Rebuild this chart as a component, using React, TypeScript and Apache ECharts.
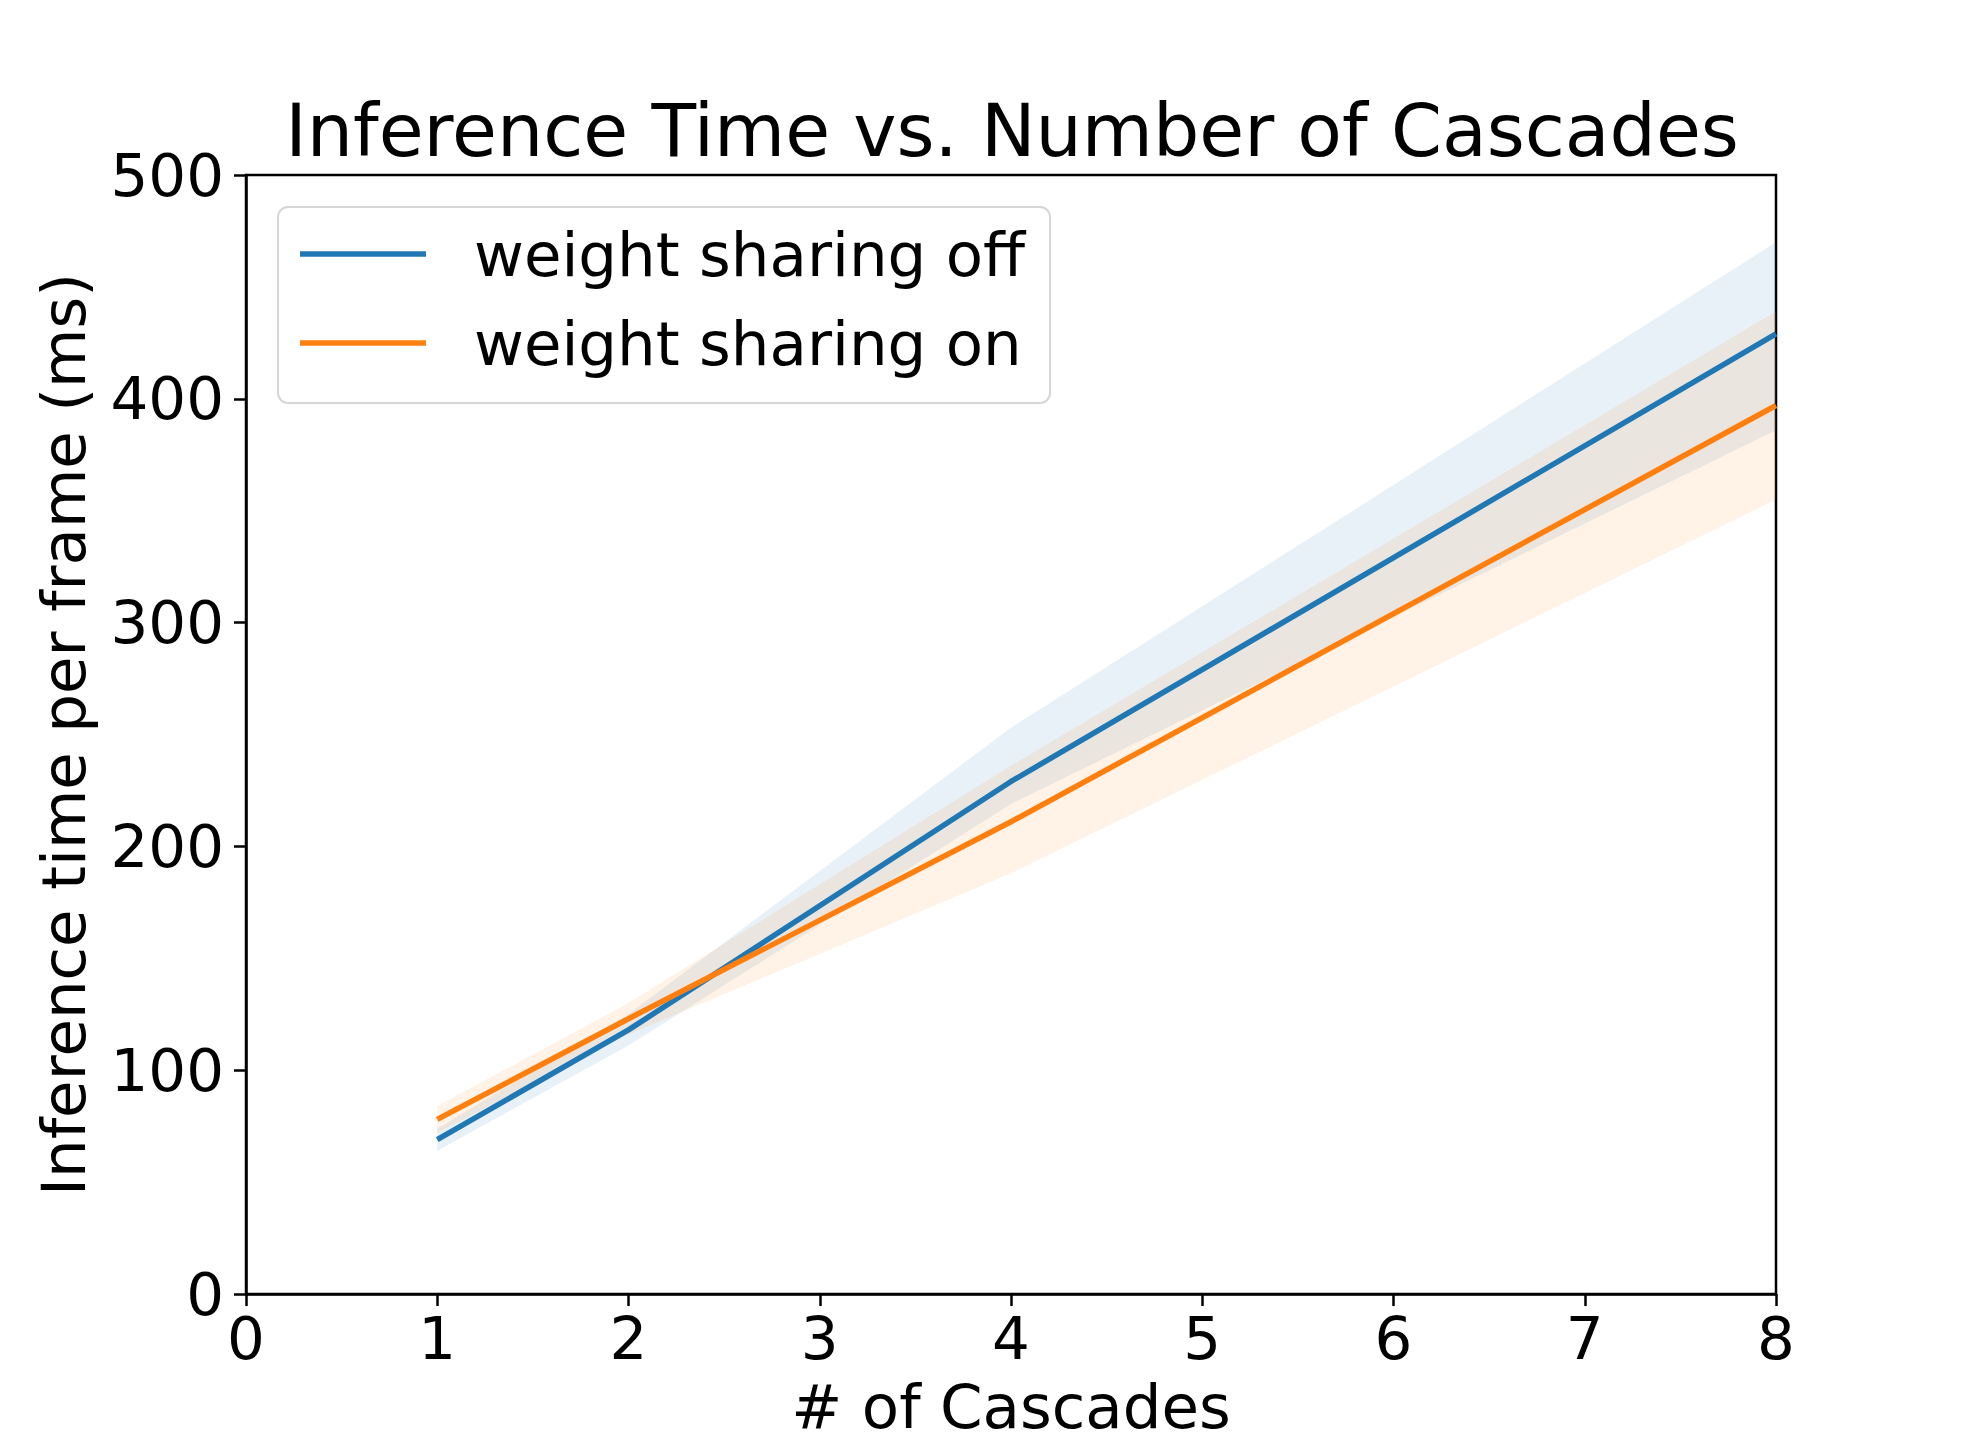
import React, { useEffect, useRef } from "react";
import * as echarts from "echarts";

const cascades = [1, 2, 4, 8];
const offMean = [69, 118, 229, 429];
const offLow = [64, 111, 219, 386];
const offHigh = [74, 125, 253, 470];
const onMean = [78, 123, 211, 397];
const onLow = [72, 116, 188, 355];
const onHigh = [84, 130, 236, 439];
const seriesNames = ["weight sharing off", "weight sharing on"];
const xTicks = [0, 1, 2, 3, 4, 5, 6, 7, 8];
const yTicks = [0, 100, 200, 300, 400, 500];

const BLUE = "#1f77b4";
const ORANGE = "#ff7f0e";
const FONT = "DejaVu Sans";

function band(name: string, low: number[], high: number[], color: string) {
  return {
    type: "custom",
    name: name + " band",
    z: 1,
    silent: true,
    data: cascades.map((x, i) => [x, low[i], high[i]]),
    encode: { x: 0, y: [1, 2] },
    renderItem: (params: any, api: any) => {
      if (params.dataIndex !== 0) return null;
      const top = cascades.map((x, i) => api.coord([x, high[i]]));
      const bot = cascades.map((x, i) => api.coord([x, low[i]])).reverse();
      return {
        type: "polygon",
        shape: { points: top.concat(bot) },
        style: { fill: color, opacity: 0.1 },
      };
    },
  };
}

export default function App() {
  const ref = useRef<HTMLDivElement>(null);
  useEffect(() => {
    if (!ref.current) return;
    const chart = echarts.init(ref.current, null, { renderer: "svg" });
    chart.setOption({
      animation: false,
      backgroundColor: "#ffffff",
      title: {
        text: "Inference Time vs. Number of Cascades",
        left: 1007,
        textAlign: "center",
        top: 89,
        textStyle: { fontFamily: FONT, fontSize: 73, fontWeight: "normal", color: "#000" },
      },
      grid: {
        left: 246,
        right: 198,
        top: 175,
        bottom: 160,
        containLabel: false,
        outerBoundsMode: "none",
        show: true,
        borderColor: "#000",
        borderWidth: 2.5,
      },
      legend: {
        data: seriesNames.map((n) => ({ name: n, icon: "rect" })),
        orient: "vertical",
        left: 278,
        top: 207,
        itemWidth: 126,
        itemHeight: 5.5,
        itemGap: 19,
        padding: [12, 25, 25, 22],
        backgroundColor: "rgba(255,255,255,0.8)",
        borderColor: "#d6d6d6",
        borderWidth: 2,
        borderRadius: 10,
        textStyle: {
          fontFamily: FONT,
          fontSize: 61,
          color: "#000",
          lineHeight: 70,
          padding: [0, 0, 0, 43],
        },
      },
      xAxis: {
        type: "value",
        min: 0,
        max: 8,
        interval: 1,
        name: "# of Cascades",
        nameLocation: "middle",
        nameGap: 82,
        nameTextStyle: { fontFamily: FONT, fontSize: 61, color: "#000" },
        splitLine: { show: false },
        axisLine: { show: true, lineStyle: { color: "#000", width: 2.5 } },
        axisTick: { show: true, inside: false, length: 12, lineStyle: { color: "#000", width: 2.5 } },
        axisLabel: {
          fontFamily: FONT,
          fontSize: 59.5,
          color: "#000",
          margin: 14,
          formatter: (v: number) => (xTicks.includes(v) ? String(v) : ""),
        },
      },
      yAxis: {
        type: "value",
        min: 0,
        max: 500,
        interval: 100,
        name: "Inference time per frame (ms)",
        nameLocation: "middle",
        nameGap: 152,
        nameTextStyle: { fontFamily: FONT, fontSize: 61, color: "#000" },
        splitLine: { show: false },
        axisLine: { show: true, lineStyle: { color: "#000", width: 2.5 } },
        axisTick: { show: true, inside: false, length: 12, lineStyle: { color: "#000", width: 2.5 } },
        axisLabel: {
          fontFamily: FONT,
          fontSize: 59.5,
          color: "#000",
          margin: 22,
          formatter: (v: number) => (yTicks.includes(v) ? String(v) : ""),
        },
      },
      series: [
        band(seriesNames[0], offLow, offHigh, BLUE),
        band(seriesNames[1], onLow, onHigh, ORANGE),
        {
          type: "line",
          name: seriesNames[0],
          z: 3,
          data: cascades.map((x, i) => [x, offMean[i]]),
          showSymbol: false,
          symbol: "none",
          color: BLUE,
          lineStyle: { color: BLUE, width: 5.5 },
        },
        {
          type: "line",
          name: seriesNames[1],
          z: 3,
          data: cascades.map((x, i) => [x, onMean[i]]),
          showSymbol: false,
          symbol: "none",
          color: ORANGE,
          lineStyle: { color: ORANGE, width: 5.5 },
        },
      ],
    });
    return () => chart.dispose();
  }, []);
  return (
    <div
      ref={ref}
      style={{ position: "fixed", left: 0, top: 0, width: 1974, height: 1454, background: "#fff" }}
    />
  );
}
